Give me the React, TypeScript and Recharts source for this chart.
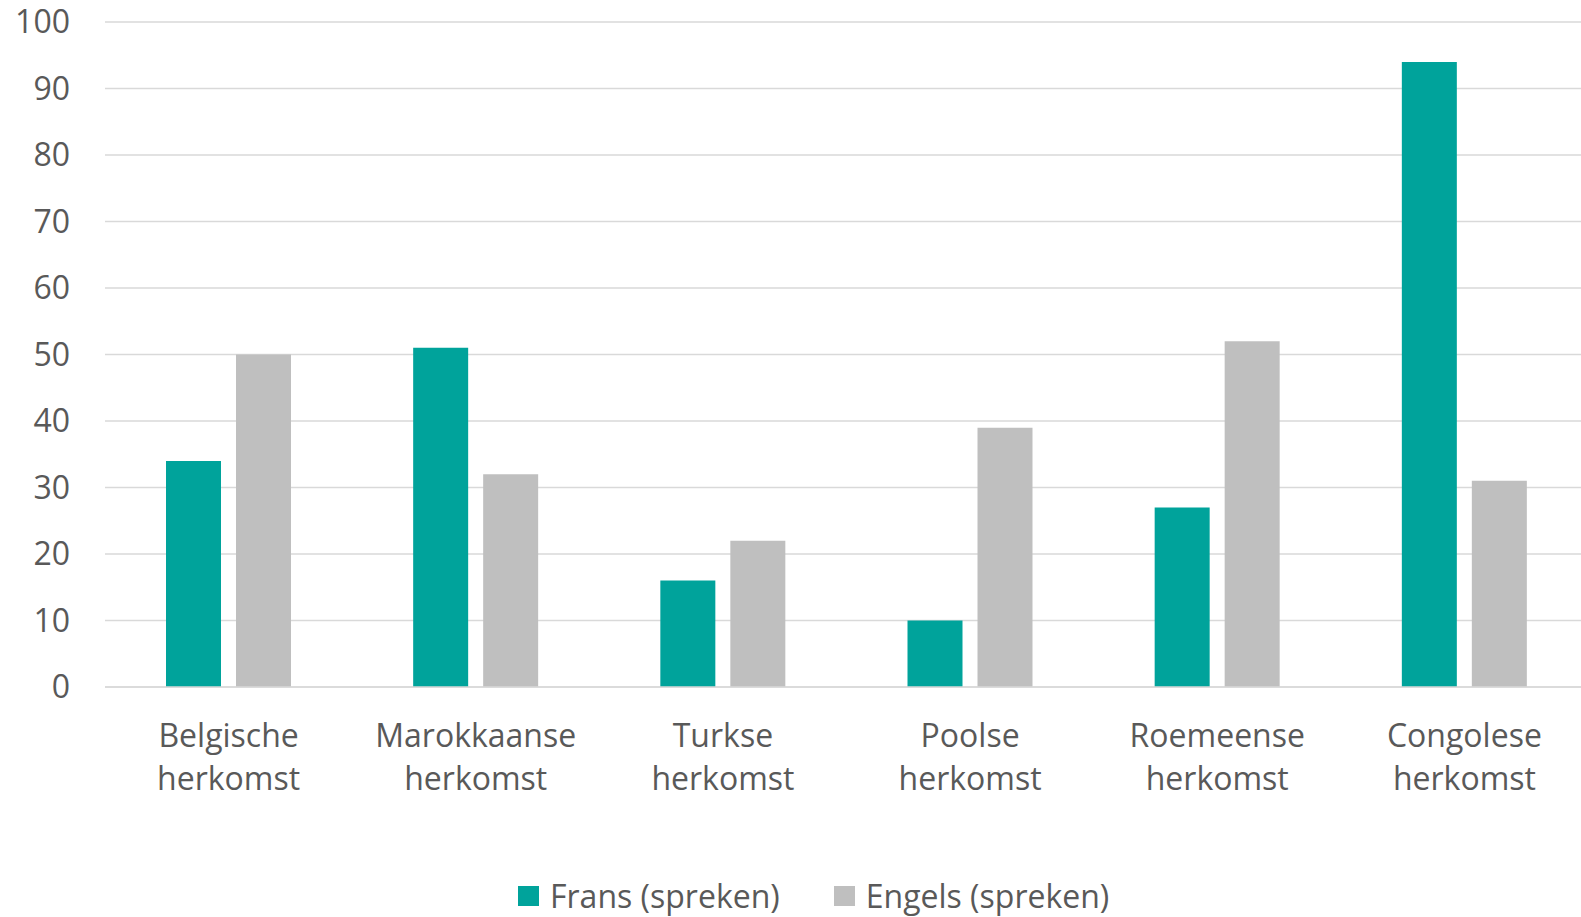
import React from "react";
import { BarChart, Bar, XAxis, YAxis, CartesianGrid } from "recharts";

const categories = [
  ["Belgische", "herkomst"],
  ["Marokkaanse", "herkomst"],
  ["Turkse", "herkomst"],
  ["Poolse", "herkomst"],
  ["Roemeense", "herkomst"],
  ["Congolese", "herkomst"],
];
const frans = [34, 51, 16, 10, 27, 94];
const engels = [50, 32, 22, 39, 52, 31];
const yTicks = [0, 10, 20, 30, 40, 50, 60, 70, 80, 90, 100];
const seriesNames = ["Frans (spreken)", "Engels (spreken)"];
const colors = ["#00A39B", "#BFBFBF"];

const data = categories.map((c, i) => ({
  name: c.join(" "),
  frans: frans[i],
  engels: engels[i],
}));

const FONT = "'Open Sans', sans-serif";
const TEXT = "#595959";
const FS = 32;

const CatTick = (props: any) => {
  const { x, y, payload, index } = props;
  const c = categories[index] || String(payload.value).split(" ");
  return (
    <text x={x} y={y} textAnchor="middle" fill={TEXT} fontFamily={FONT} fontSize={FS}>
      <tspan x={x} dy={60}>{c[0]}</tspan>
      <tspan x={x} dy={43}>{c[1]}</tspan>
    </text>
  );
};

export default function App() {
  return (
    <div
      style={{
        position: "fixed",
        left: 0,
        top: 0,
        width: 1581,
        height: 917,
        overflow: "hidden",
        background: "#fff",
        fontFamily: FONT,
      }}
    >
      <BarChart
        width={1600}
        height={917}
        data={data}
        margin={{ top: 22, right: 12, left: 0, bottom: 0 }}
        barSize={55}
        barGap={15}
      >
        <CartesianGrid vertical={false} stroke="#D9D9D9" strokeWidth={1.5} />
        <XAxis
          dataKey="name"
          height={230}
          axisLine={{ stroke: "#D9D9D9", strokeWidth: 1.5 }}
          tickLine={false}
          tickSize={0}
          tickMargin={0}
          interval={0}
          tick={<CatTick />}
        />
        <YAxis
          width={105}
          domain={[0, 100]}
          ticks={yTicks}
          axisLine={false}
          tickLine={false}
          tickSize={0}
          tickMargin={35}
          interval={0}
          tick={{ fill: TEXT, fontFamily: FONT, fontSize: FS }}
        />
        <Bar dataKey="frans" name={seriesNames[0]} fill={colors[0]} isAnimationActive={false} />
        <Bar dataKey="engels" name={seriesNames[1]} fill={colors[1]} isAnimationActive={false} />
      </BarChart>
      <div
        style={{
          position: "absolute",
          left: 518,
          top: 876,
          display: "flex",
          alignItems: "center",
          fontFamily: FONT,
          fontSize: FS,
          color: TEXT,
          lineHeight: "40px",
          whiteSpace: "nowrap",
        }}
      >
        {seriesNames.map((n, i) => (
          <div key={n} style={{ display: "flex", alignItems: "center", marginRight: i === 0 ? 54 : 0 }}>
            <span style={{ display: "inline-block", width: 21, height: 20, background: colors[i], marginRight: 11 }} />
            <span>{n}</span>
          </div>
        ))}
      </div>
    </div>
  );
}
